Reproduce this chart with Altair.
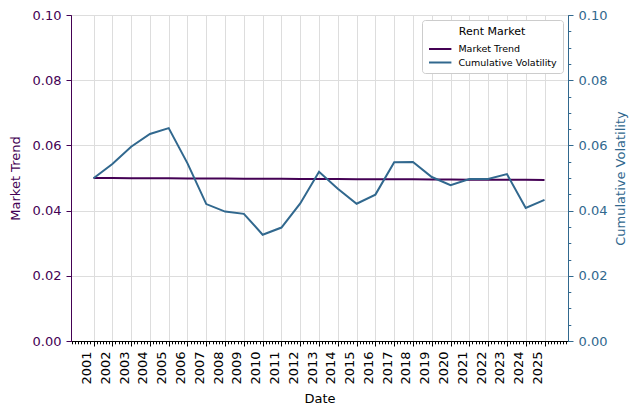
import altair as alt
import pandas as pd

years = list(range(2001, 2026))
market_trend = [0.05000, 0.04998, 0.04995, 0.04993, 0.04990, 0.04988, 0.04985,
                0.04983, 0.04980, 0.04978, 0.04975, 0.04973, 0.04970, 0.04968,
                0.04965, 0.04963, 0.04960, 0.04958, 0.04955, 0.04953, 0.04950,
                0.04948, 0.04945, 0.04943, 0.04940]
cumulative_volatility = [0.0499, 0.0543, 0.0596, 0.0635, 0.0653, 0.0545, 0.0420,
                         0.0397, 0.0390, 0.0326, 0.0348, 0.0422, 0.0519, 0.0467,
                         0.0421, 0.0449, 0.0548, 0.0549, 0.0503, 0.0478, 0.0497,
                         0.0497, 0.0512, 0.0408, 0.0433]
series_names = ["Market Trend", "Cumulative Volatility"]
series_colors = ["#440154", "#31688e"]
left_ticks = [0.0, 0.02, 0.04, 0.06, 0.08, 0.10]
right_ticks = [round(k * 0.005, 3) for k in range(0, 21)]
x_ticks = [round(k / 6, 5) for k in range(11999, 12158)]

df = pd.DataFrame({
    "Date": years + years,
    "value": market_trend + cumulative_volatility,
    "series": [series_names[0]] * len(years) + [series_names[1]] * len(years),
})

FONT = "DejaVu Sans"
GRID = "#dddddd"
major_x = "abs(datum.value - round(datum.value)) < 0.01 && datum.value > 2000.5 && datum.value < 2025.5"

x_axis = alt.Axis(
    values=x_ticks, title="Date",
    labelExpr=f"({major_x}) ? format(datum.value, 'd') : ''",
    labelAngle=270, labelAlign="right", labelBaseline="bottom",
    labelPadding=5, labelOverlap=False, labelFlush=False,
    labelFontSize=13, labelColor="black",
    tickSize={"condition": {"test": major_x, "value": 5}, "value": 2.8},
    tickColor="black", domainColor="black",
    grid=True, gridColor=GRID,
    gridOpacity={"condition": {"test": major_x, "value": 1}, "value": 0},
    titleFontSize=13, titleFontWeight="normal", titleColor="black",
    titleX=248.5, titleY=57.5, titleAlign="center", titleBaseline="middle",
)
x_enc = alt.X("Date:Q", scale=alt.Scale(domain=[1999.8, 2026.25], nice=False, zero=False), axis=x_axis)

left_axis = alt.Axis(
    orient="left", values=left_ticks, format=".2f", title="Market Trend",
    labelColor=series_colors[0], tickColor=series_colors[0], domainColor=series_colors[0],
    titleColor=series_colors[0], tickSize=5, labelPadding=5, labelFontSize=13,
    titleFontSize=13, titleFontWeight="normal", grid=True, gridColor=GRID,
    titleX=-56, titleY=163, titleAngle=270, titleAlign="center", titleBaseline="middle",
)
major_y = "abs(datum.value * 50 - round(datum.value * 50)) < 0.01"
right_axis = alt.Axis(
    orient="right", values=right_ticks, title="Cumulative Volatility",
    labelExpr=f"({major_y}) ? format(datum.value, '.2f') : ''",
    tickSize={"condition": {"test": major_y, "value": 5}, "value": 2.8},
    labelColor=series_colors[1], tickColor=series_colors[1], domainColor=series_colors[1],
    titleColor=series_colors[1], labelPadding=5, labelFontSize=13, labelOverlap=False,
    titleFontSize=13, titleFontWeight="normal", grid=False,
    titleX=52, titleY=163, titleAngle=270, titleAlign="center", titleBaseline="middle",
)

legend = alt.Legend(
    title="Rent Market", orient="top-right", offset=5,
    fillColor="white", strokeColor="#cccccc", cornerRadius=3, padding=6,
    titleFontSize=11, titleFontWeight="normal", titleAnchor="middle", titleColor="black",
    titlePadding=4, labelFontSize=9.5, labelColor="black",
    symbolType="M-1,0H2.2", symbolSize=196, symbolStrokeWidth=2,
    labelOffset=14.4, rowPadding=0.5,
)
color_enc = alt.Color("series:N", scale=alt.Scale(domain=series_names, range=series_colors),
                      legend=legend)

base = alt.Chart(df)
trend = base.transform_filter(alt.datum.series == series_names[0]).mark_line(strokeWidth=2).encode(
    x=x_enc,
    y=alt.Y("value:Q", scale=alt.Scale(domain=[0, 0.1], nice=False), axis=left_axis),
    color=color_enc,
)
vol = base.transform_filter(alt.datum.series == series_names[1]).mark_line(strokeWidth=2).encode(
    x=x_enc,
    y=alt.Y("value:Q", scale=alt.Scale(domain=[0, 0.1], nice=False), axis=right_axis),
    color=color_enc,
)

chart = alt.layer(trend, vol).resolve_scale(y="independent").properties(
    width=497, height=326,
    padding={"left": 63, "top": 7, "right": 61, "bottom": 67},
    autosize=alt.AutoSizeParams(type="none"),
).configure(font=FONT).configure_view(stroke="black", strokeWidth=1)

chart.save("out.html", embed_options={"renderer": "svg", "actions": False})
